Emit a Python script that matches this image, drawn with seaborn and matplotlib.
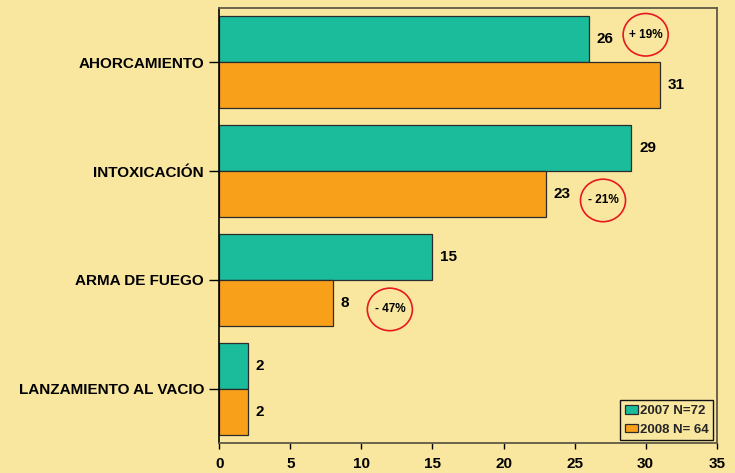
import numpy as np
import pandas as pd
import matplotlib
matplotlib.use("Agg")
import matplotlib.pyplot as plt
from matplotlib.patches import Ellipse
import seaborn as sns

# datos
metodos = ["AHORCAMIENTO", "INTOXICACIÓN", "ARMA DE FUEGO", "LANZAMIENTO AL VACIO"]
casos_2007 = [26, 29, 15, 2]
casos_2008 = [31, 23, 8, 2]
series = ["2007 N=72", "2008 N= 64"]

fondo = "#F9E79F"
colores = ["#1ABC9C", "#F9A01B"]

df = pd.DataFrame({
    "metodo": metodos * 2,
    "casos": casos_2007 + casos_2008,
    "serie": [series[0]] * len(metodos) + [series[1]] * len(metodos),
})

sns.set_style("white")
plt.rcParams["font.family"] = ["Liberation Sans", "DejaVu Sans"]
plt.rcParams["font.weight"] = "bold"

fig = plt.figure(figsize=(7.35, 4.73), dpi=100, facecolor=fondo)
ax = fig.add_axes([0.2984, 0.0624, 0.6767, 0.9217])
ax.set_facecolor(fondo)

sns.barplot(data=df, y="metodo", x="casos", hue="serie", orient="h",
            palette=colores, width=0.845, edgecolor="#2b2b2b", linewidth=0.9,
            saturation=1, ax=ax)

# etiquetas de valor
for cont in ax.containers:
    ax.bar_label(cont, padding=5.5, fontsize=11, fontweight="bold", color="#000000")

# circulos con la variacion porcentual
for i, (a, b) in enumerate(zip(casos_2007, casos_2008)):
    if a == b:
        continue
    cambio = round((b - a) / a * 100)
    txt = f"+ {cambio}%" if cambio > 0 else f"- {abs(cambio)}%"
    menor = min(a, b)
    yy = i - 0.25 if a < b else i + 0.27
    xx = menor + 4.0
    ax.add_patch(Ellipse((xx, yy), width=3.17, height=0.39, fill=False,
                         edgecolor="#E8191E", linewidth=1.2, zorder=5))
    ax.text(xx, yy, txt, ha="center", va="center", fontsize=8.5,
            fontweight="bold", color="#000000", zorder=6)

ax.set_xlim(0, 35)
ax.set_ylim(3.5, -0.5)
ax.set_xticks(np.arange(0, 36, 5))
ax.set_xlabel("")
ax.set_ylabel("")
ax.tick_params(axis="both", which="both", direction="out", length=5,
               width=1, colors="#000000", labelsize=11, pad=6,
               bottom=True, left=True)
for lab in ax.get_xticklabels() + ax.get_yticklabels():
    lab.set_fontweight("bold")
ax.tick_params(axis="x", length=4, pad=6)
ax.tick_params(axis="y", length=7, pad=4)

for s in ["top", "right", "bottom"]:
    ax.spines[s].set_visible(True)
    ax.spines[s].set_color("#5e5a48")
    ax.spines[s].set_linewidth(1.3)
ax.spines["left"].set_color("#000000")
ax.spines["left"].set_linewidth(1.2)

leg = ax.legend(loc="lower right", bbox_to_anchor=(1, 0), borderaxespad=0.25,
                frameon=True, fancybox=False, handlelength=1.0,
                handleheight=0.6, handletextpad=0.15, labelspacing=0.5,
                borderpad=0.35, prop={"weight": "bold", "size": 9.5})
leg.get_frame().set_edgecolor("#111111")
leg.get_frame().set_facecolor(fondo)
leg.get_frame().set_linewidth(1.0)
leg.get_frame().set_alpha(1)

fig.savefig("out.png", dpi=100, facecolor=fondo)
